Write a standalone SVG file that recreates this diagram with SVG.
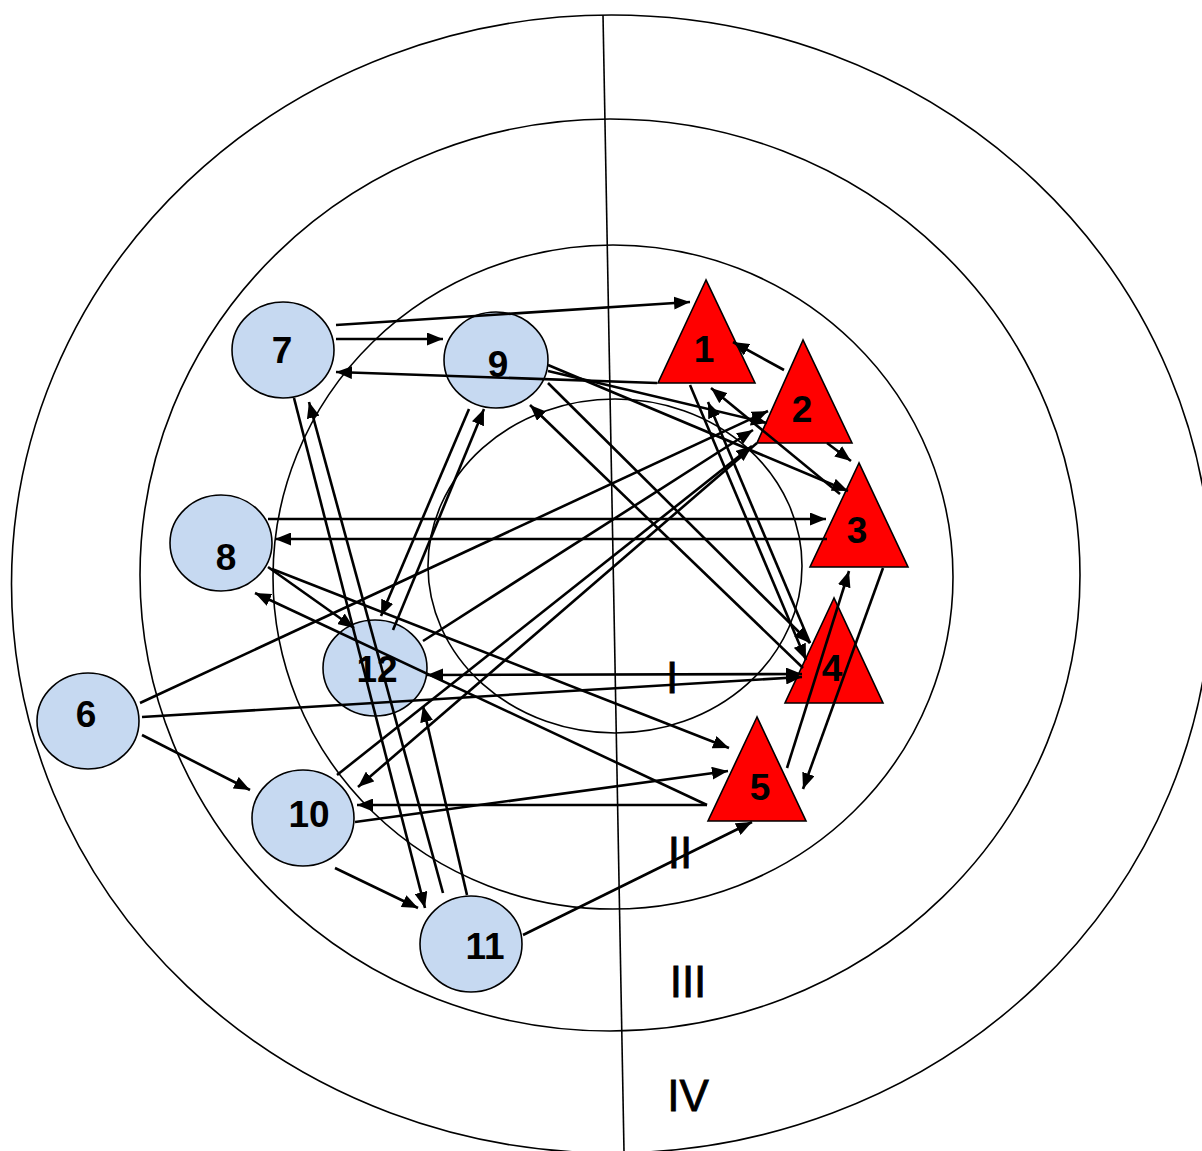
<svg xmlns="http://www.w3.org/2000/svg" width="1202" height="1151" viewBox="0 0 1202 1151">
<defs>
<style>
.ring{fill:none;stroke:#000;stroke-width:1.6}
.node{fill:#C6D9F1;stroke:#000;stroke-width:1.6}
.tri{fill:#FF0000;stroke:#000;stroke-width:1.6}
.c line{stroke:#000;stroke-width:2.6;marker-end:url(#ah)}
.lbl{font-family:"Liberation Sans",Arial,sans-serif;font-weight:bold;font-size:37px;text-anchor:middle;fill:#000}
.zone{font-family:"Liberation Sans",Arial,sans-serif;font-size:44px;text-anchor:middle;fill:#000;stroke:#000;stroke-width:0.8}
</style>
<marker id="ah" viewBox="0 0 16 13" refX="16" refY="6.5" markerWidth="16" markerHeight="13" markerUnits="userSpaceOnUse" orient="auto-start-reverse"><path d="M0,0L16,6.5L0,13z" fill="#000"/></marker>
</defs>
<rect width="1202" height="1151" fill="#fff"/>
<g id="zones">
<ellipse class="ring" cx="611.5" cy="584" rx="600" ry="569"/>
<ellipse class="ring" cx="610" cy="575" rx="470" ry="456"/>
<ellipse class="ring" cx="613" cy="577" rx="340" ry="332"/>
<ellipse class="ring" cx="615" cy="566" rx="187" ry="167"/>
<line x1="603" y1="15" x2="624" y2="1151" stroke="#000" stroke-width="1.6"/>
</g>
<g id="node7"><ellipse class="node" cx="283" cy="350" rx="51" ry="48"/></g>
<g id="node9"><ellipse class="node" cx="496" cy="360" rx="52" ry="48"/></g>
<g id="node8"><ellipse class="node" cx="221" cy="543" rx="51" ry="48"/></g>
<g id="node12"><ellipse class="node" cx="375" cy="668" rx="52" ry="48"/></g>
<g id="node6"><ellipse class="node" cx="88" cy="721" rx="51" ry="48"/></g>
<g id="node10"><ellipse class="node" cx="303" cy="818" rx="51" ry="48"/></g>
<g id="node11"><ellipse class="node" cx="471" cy="944" rx="51" ry="48"/></g>
<g id="node1"><polygon class="tri" points="706,280 658,383 755,383"/></g>
<g id="node2"><polygon class="tri" points="803,340 757,443 852,443"/></g>
<g id="node3"><polygon class="tri" points="859,463 810,567 908,567"/></g>
<g id="node4"><polygon class="tri" points="834,598 785,703 883,703"/></g>
<g id="node5"><polygon class="tri" points="757,717 708,821 806,821"/></g>
<g id="connectors" class="c">
<line x1="336" y1="325" x2="690" y2="302"/>
<line x1="336" y1="339" x2="443" y2="339"/>
<line x1="657" y1="383" x2="336" y2="372"/>
<line x1="784" y1="370" x2="733" y2="342"/>
<line x1="548" y1="371" x2="767" y2="423"/>
<line x1="827" y1="443" x2="851" y2="461"/>
<line x1="548" y1="365" x2="848" y2="491"/>
<line x1="840" y1="494" x2="711" y2="388"/>
<line x1="690" y1="385" x2="806" y2="660"/>
<line x1="810" y1="643" x2="708" y2="402"/>
<line x1="548" y1="383" x2="810" y2="643"/>
<line x1="803" y1="668" x2="530" y2="405"/>
<line x1="427" y1="675" x2="802" y2="674" style="marker-start:url(#ah)"/>
<line x1="142" y1="717" x2="802" y2="677"/>
<line x1="268" y1="519" x2="826" y2="519"/>
<line x1="827" y1="539" x2="275" y2="539"/>
<line x1="268" y1="567" x2="354" y2="628"/>
<line x1="272" y1="569" x2="729" y2="748"/>
<line x1="707" y1="805" x2="255" y2="593"/>
<line x1="707" y1="805" x2="357" y2="805"/>
<line x1="355" y1="822" x2="728" y2="771"/>
<line x1="469" y1="409" x2="381" y2="616"/>
<line x1="393" y1="630" x2="484" y2="409"/>
<line x1="294" y1="398" x2="425" y2="908"/>
<line x1="443" y1="893" x2="309" y2="402"/>
<line x1="467" y1="895" x2="423" y2="706"/>
<line x1="335" y1="868" x2="418" y2="908"/>
<line x1="523" y1="935" x2="752" y2="822"/>
<line x1="142" y1="735" x2="250" y2="790"/>
<line x1="140" y1="703" x2="768" y2="411"/>
<line x1="423" y1="641" x2="753" y2="430"/>
<line x1="337" y1="775" x2="752" y2="446"/>
<line x1="757" y1="443" x2="358" y2="787"/>
<line x1="787" y1="768" x2="849" y2="571"/>
<line x1="883" y1="568" x2="803" y2="789"/>
</g>
<g id="labels">
<text class="lbl" x="282" y="363">7</text>
<text class="lbl" x="498" y="377">9</text>
<text class="lbl" x="226" y="570">8</text>
<text class="lbl" x="377" y="682">12</text>
<text class="lbl" x="86" y="727">6</text>
<text class="lbl" x="309" y="827">10</text>
<text class="lbl" x="485" y="959">11</text>
<text class="lbl" x="704" y="362">1</text>
<text class="lbl" x="802" y="422">2</text>
<text class="lbl" x="857" y="543">3</text>
<text class="lbl" x="832" y="681">4</text>
<text class="lbl" x="760" y="800">5</text>
<text class="zone" x="672" y="693">I</text>
<text class="zone" x="680" y="868">II</text>
<text class="zone" x="688" y="997">III</text>
<text class="zone" x="688" y="1111">IV</text>
</g>
</svg>
